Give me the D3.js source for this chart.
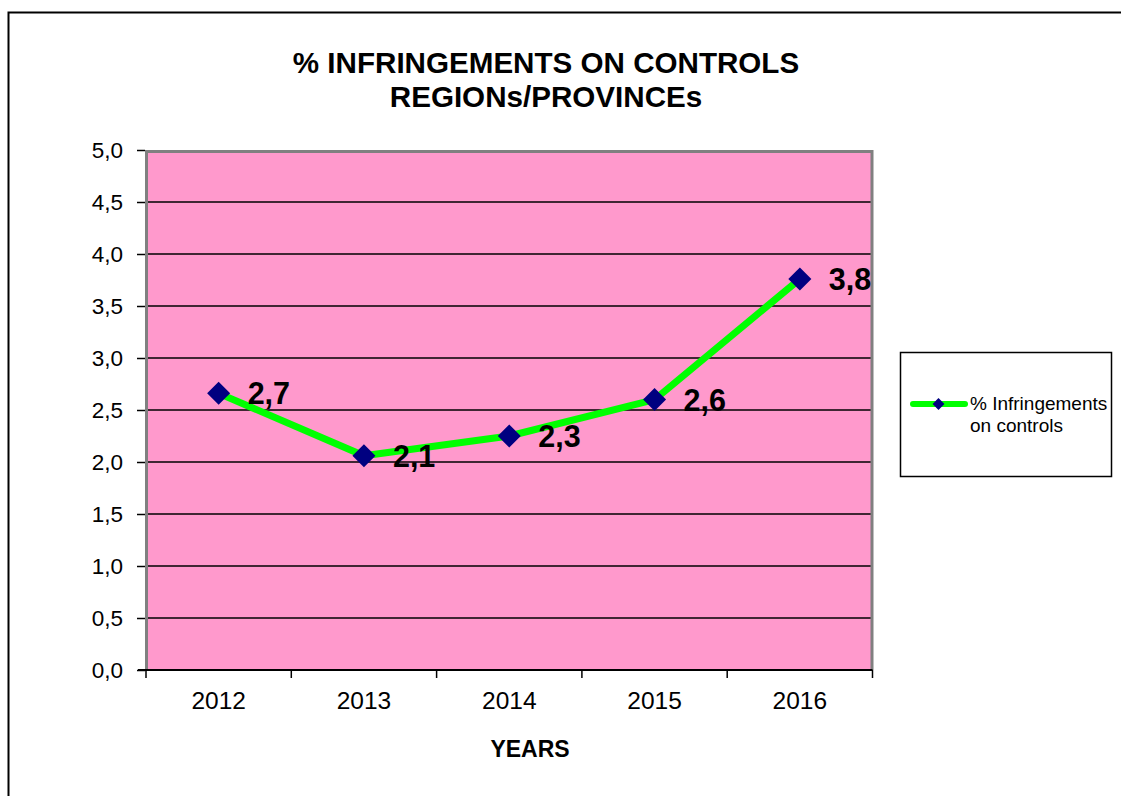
<!DOCTYPE html>
<html>
<head>
<meta charset="utf-8">
<script src="https://cdn.jsdelivr.net/npm/d3@7"></script>
<style>
  html, body { margin: 0; padding: 0; background: #fff; }
  svg { display: block; }
  text { font-family: "Liberation Sans", Arial, sans-serif; }
</style>
</head>
<body>
<svg id="chart" width="1121" height="796"></svg>
<script>
// ---- data ----
const years = ["2012", "2013", "2014", "2015", "2016"];
const infringements = [2.66, 2.06, 2.25, 2.6, 3.76];
const yTicks = [0, 0.5, 1, 1.5, 2, 2.5, 3, 3.5, 4, 4.5, 5];
const titleLines = ["% INFRINGEMENTS ON CONTROLS", "REGIONs/PROVINCEs"];
const seriesName = ["% Infringements", "on controls"];
const xTitle = "YEARS";

// ---- layout ----
const W = 1121, H = 796;
const plot = { x0: 146, x1: 872.5, y0: 150, y1: 670 };
const svg = d3.select("#chart");

const fmt = v => d3.format(".1f")(v).replace(".", ",");

// outer border
svg.append("rect")
  .attr("x", 8.5).attr("y", 12.5)
  .attr("width", W + 20).attr("height", H + 20)
  .attr("fill", "#fff").attr("stroke", "#000").attr("stroke-width", 2);

// scales
const x = d3.scaleBand().domain(years).range([plot.x0, plot.x1]).padding(0);
const y = d3.scaleLinear().domain([0, 5]).range([plot.y1, plot.y0]);

// plot background
svg.append("rect")
  .attr("x", plot.x0).attr("y", plot.y0)
  .attr("width", plot.x1 - plot.x0).attr("height", plot.y1 - plot.y0)
  .attr("fill", "#FF99CC");

// gridlines
svg.append("g")
  .selectAll("line")
  .data(yTicks.filter(t => t > 0 && t < 5))
  .join("line")
  .attr("x1", plot.x0).attr("x2", plot.x1)
  .attr("y1", d => y(d)).attr("y2", d => y(d))
  .attr("stroke", "#000").attr("stroke-width", 1.5);

// gray plot border (top, left, right)
svg.append("path")
  .attr("d", `M${plot.x0 + 0.5},${plot.y1} L${plot.x0 + 0.5},${plot.y0 + 1.5} L${plot.x1 - 0.5},${plot.y0 + 1.5} L${plot.x1 - 0.5},${plot.y1}`)
  .attr("fill", "none").attr("stroke", "#808080").attr("stroke-width", 3);

// y axis
const yAxis = d3.axisLeft(y).tickValues(yTicks).tickSize(8).tickPadding(14).tickFormat(fmt);
const gy = svg.append("g").attr("transform", `translate(${plot.x0 - 1},0)`).call(yAxis);
gy.select(".domain").remove();
gy.selectAll(".tick line").attr("stroke", "#000").attr("stroke-width", 1.5);
gy.selectAll(".tick text")
  .attr("font-size", 22.5).attr("fill", "#000")
  .attr("font-family", "Liberation Sans, Arial, sans-serif")
  .attr("dy", "0.35em");

// x axis
const xAxis = d3.axisBottom(x).tickSize(0).tickPadding(22);
const gx = svg.append("g").attr("transform", `translate(0,${plot.y1})`).call(xAxis);
gx.select(".domain").attr("stroke", "#000").attr("stroke-width", 2).attr("d", `M${plot.x0 - 8},0H${plot.x1}`);
gx.selectAll(".tick text")
  .attr("font-size", 24.5).attr("fill", "#000")
  .attr("font-family", "Liberation Sans, Arial, sans-serif");
// category boundary ticks
const bounds = years.map(d => x(d)).concat([x(years[years.length - 1]) + x.bandwidth()]);
gx.append("g").selectAll("line").data(bounds).join("line")
  .attr("x1", d => d).attr("x2", d => d)
  .attr("y1", 0).attr("y2", 8)
  .attr("stroke", "#000").attr("stroke-width", 1.5);

// line
const pts = years.map((yr, i) => ({ yr, v: infringements[i] }));
const line = d3.line().x(d => x(d.yr) + x.bandwidth() / 2).y(d => y(d.v));
svg.append("path").datum(pts)
  .attr("d", line)
  .attr("fill", "none").attr("stroke", "#00FF00").attr("stroke-width", 7)
  .attr("stroke-linejoin", "round");

// markers
const diamond = d3.symbol().type(d3.symbolSquare).size(265);
svg.append("g").selectAll("path").data(pts).join("path")
  .attr("d", diamond)
  .attr("transform", d => `translate(${x(d.yr) + x.bandwidth() / 2},${y(d.v)}) rotate(45)`)
  .attr("fill", "#000080");

// data labels
svg.append("g").selectAll("text").data(pts).join("text")
  .attr("x", d => x(d.yr) + x.bandwidth() / 2 + 29)
  .attr("y", d => y(d.v) + 11)
  .attr("font-size", 30.5).attr("font-weight", "bold").attr("fill", "#000")
  .text(d => fmt(d.v));

// title
svg.append("g").selectAll("text").data(titleLines).join("text")
  .attr("x", 546).attr("y", (d, i) => 73 + i * 34)
  .attr("text-anchor", "middle")
  .attr("font-size", 29.6).attr("font-weight", "bold").attr("fill", "#000")
  .text(d => d);

// x title
svg.append("text")
  .attr("x", 530).attr("y", 757)
  .attr("text-anchor", "middle")
  .attr("font-size", 23).attr("font-weight", "bold").attr("fill", "#000")
  .text(xTitle);

// legend
const lg = svg.append("g");
lg.append("rect")
  .attr("x", 900.5).attr("y", 352.5).attr("width", 211).attr("height", 124)
  .attr("fill", "#fff").attr("stroke", "#000").attr("stroke-width", 1.5);
lg.append("line")
  .attr("x1", 913).attr("x2", 965).attr("y1", 404).attr("y2", 404)
  .attr("stroke", "#00FF00").attr("stroke-width", 6).attr("stroke-linecap", "round");
lg.append("path")
  .attr("d", d3.symbol().type(d3.symbolSquare).size(70))
  .attr("transform", "translate(938.5,404) rotate(45)")
  .attr("fill", "#000080");
lg.selectAll("text.leg").data(seriesName).join("text")
  .attr("class", "leg")
  .attr("x", 970).attr("y", (d, i) => 410 + i * 22)
  .attr("font-size", 19).attr("fill", "#000")
  .text(d => d);
</script>
</body>
</html>
